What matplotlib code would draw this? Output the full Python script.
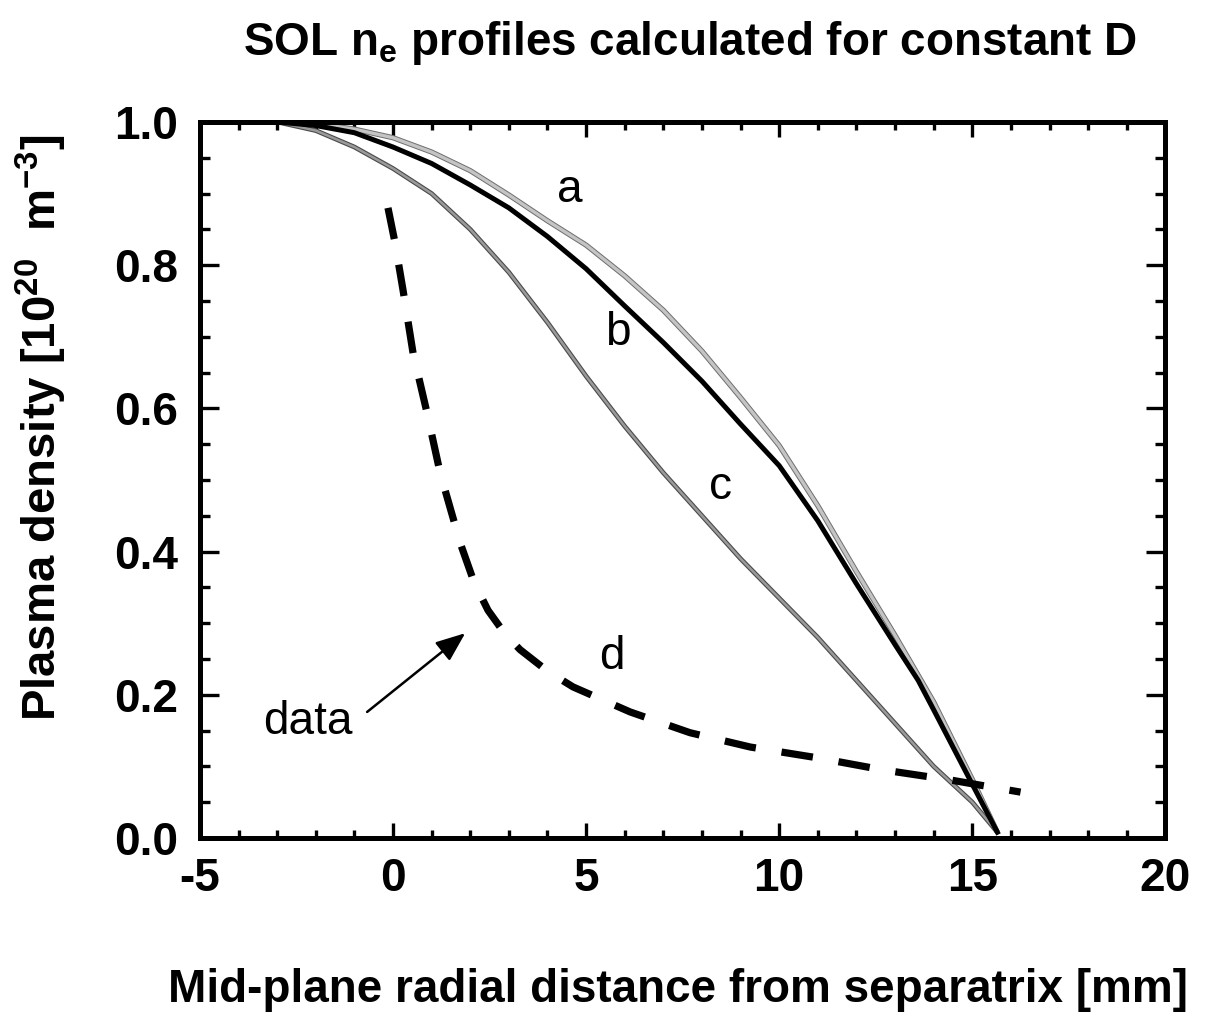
import matplotlib
matplotlib.use("Agg")
import matplotlib.pyplot as plt
import matplotlib.patheffects as pe
from matplotlib.ticker import MultipleLocator

plt.rcParams['font.family'] = ['Liberation Sans', 'DejaVu Sans']
plt.rcParams['mathtext.fontset'] = 'custom'
plt.rcParams['mathtext.rm'] = 'Liberation Sans:bold'
plt.rcParams['mathtext.bf'] = 'Liberation Sans:bold'
plt.rcParams['mathtext.default'] = 'bf'

# curve a (light grey)
xa = [-3.0, -2.0, -1.0, 0.0, 1.0, 2.0, 3.0, 4.0, 5.0, 6.0, 7.0, 8.0, 9.0, 10.0, 11.0, 12.0, 13.0, 14.0, 15.0, 15.65]
ya = [1.0, 0.998, 0.99, 0.978, 0.958, 0.932, 0.898, 0.862, 0.828, 0.785, 0.737, 0.68, 0.615, 0.548, 0.464, 0.372, 0.283, 0.19, 0.082, 0.008]
# curve b (black)
xb = [-3.0, -2.0, -1.0, 0.0, 1.0, 2.0, 3.0, 4.0, 5.0, 6.0, 7.0, 8.0, 9.0, 10.0, 11.0, 12.0, 13.0, 13.6, 14.0, 15.0, 15.65]
yb = [1.0, 0.995, 0.985, 0.965, 0.942, 0.912, 0.88, 0.84, 0.795, 0.743, 0.692, 0.638, 0.578, 0.52, 0.443, 0.355, 0.27, 0.22, 0.179, 0.075, 0.008]
# curve c (darker grey)
xc = [-3.0, -2.0, -1.0, 0.0, 1.0, 2.0, 3.0, 4.0, 5.0, 6.0, 7.0, 8.0, 9.0, 10.0, 11.0, 12.0, 13.0, 14.0, 15.0, 15.65]
yc = [1.0, 0.988, 0.965, 0.935, 0.90, 0.85, 0.79, 0.72, 0.645, 0.575, 0.51, 0.45, 0.39, 0.335, 0.28, 0.22, 0.16, 0.10, 0.05, 0.008]
# curve d (data, dashed)
xd = [-0.13, 0.05, 0.26, 0.52, 0.88, 1.22, 1.74, 2.1, 2.46, 2.9, 3.29, 4.0, 4.66, 6.14, 7.69, 9.25, 10.98, 12.69, 14.43, 16.25]
yd = [0.880, 0.832, 0.765, 0.677, 0.594, 0.510, 0.412, 0.357, 0.318, 0.285, 0.263, 0.233, 0.211, 0.176, 0.147, 0.127, 0.112, 0.095, 0.081, 0.064]

fig = plt.figure(figsize=(12.19, 10.13), dpi=100)
ax = fig.add_axes([0.164, 0.1728, 0.792, 0.7068])

ax.plot(xa, ya, color='#c4c4c4', lw=2.4, solid_capstyle='butt',
        path_effects=[pe.Stroke(linewidth=3.8, foreground='#6e6e6e'), pe.Normal()])
ax.plot(xc, yc, color='#9a9a9a', lw=1.8, solid_capstyle='butt',
        path_effects=[pe.Stroke(linewidth=3.4, foreground='#4a4a4a'), pe.Normal()])
ax.plot(xb, yb, color='black', lw=3.6)
ax.plot(xd, yd, color='black', lw=5.2, dashes=(4.4, 3.6))

ax.text(4.59, 0.905, 'a', fontsize=33, ha='center', va='center')
ax.text(5.83, 0.705, 'b', fontsize=33, ha='center', va='center')
ax.text(8.47, 0.49, 'c', fontsize=33, ha='center', va='center')
ax.text(5.67, 0.253, 'd', fontsize=33, ha='center', va='center')
ax.text(-2.2, 0.162, 'data', fontsize=33, ha='center', va='center')
ax.annotate('', xy=(1.87, 0.286), xytext=(-0.67, 0.176),
            arrowprops=dict(arrowstyle='-|>,head_length=0.5,head_width=0.2',
                            color='black', lw=1.8, mutation_scale=36,
                            shrinkA=0, shrinkB=0))

ax.set_xlim(-5, 20)
ax.set_ylim(0, 1.0)
ax.xaxis.set_major_locator(MultipleLocator(5))
ax.xaxis.set_minor_locator(MultipleLocator(1))
ax.yaxis.set_major_locator(MultipleLocator(0.2))
ax.yaxis.set_minor_locator(MultipleLocator(0.05))
ax.tick_params(which='both', direction='in', top=True, right=True, width=2.4)
ax.tick_params(axis='x', which='major', length=11, labelsize=33, pad=14)
ax.tick_params(axis='x', which='minor', length=5.5)
ax.tick_params(axis='y', which='major', length=14, labelsize=33, pad=16)
ax.tick_params(axis='y', which='minor', length=7)
for s in ax.spines.values():
    s.set_linewidth(3.6)
ax.set_yticklabels(['%.1f' % v for v in ax.get_yticks()], fontweight='bold')
ax.set_xticklabels(['%d' % v for v in ax.get_xticks()], fontweight='bold')

fig.text(0.566, 0.958, 'SOL n$_e$ profiles calculated for constant D',
         fontsize=33, fontweight='bold', ha='center', va='center')
fig.text(0.556, 0.023, 'Mid-plane radial distance from separatrix [mm]',
         fontsize=33, fontweight='bold', ha='center', va='center')
fig.text(0.034, 0.578, 'Plasma density [10$^{20}$  m$^{-3}$]', rotation=90,
         fontsize=34, fontweight='bold', ha='center', va='center')

plt.savefig('out.png', dpi=100)
